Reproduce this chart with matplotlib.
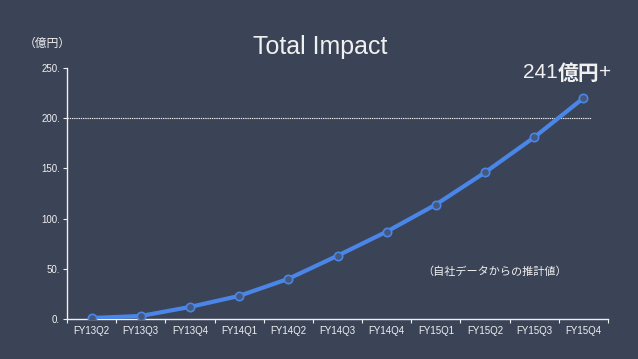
import matplotlib.pyplot as plt

plt.rcParams['font.family'] = ['Liberation Sans', 'Noto Sans CJK JP', 'DejaVu Sans']

# data
quarters = ['FY13Q2', 'FY13Q3', 'FY13Q4', 'FY14Q1', 'FY14Q2', 'FY14Q3',
            'FY14Q4', 'FY15Q1', 'FY15Q2', 'FY15Q3', 'FY15Q4']
impact = [1, 3, 12, 23, 40, 63, 87, 114, 146, 181, 220]
y_ticks = [0, 50, 100, 150, 200, 250]
y_tick_labels = ['0.', '50.', '100.', '150.', '200.', '250.']
ref_level = 200

bg = '#3b4357'
fg = '#f0f0f0'
blue = '#4a86e8'

fig = plt.figure(figsize=(6.38, 3.59), dpi=100, facecolor=bg)
ax = fig.add_axes([67 / 638, 1 - 319 / 359, 541 / 638, 251 / 359])
ax.set_facecolor(bg)

x = list(range(len(quarters)))
ax.plot(x, impact, color=blue, lw=3, marker='o', ms=6,
        markerfacecolor='#45587e', markeredgecolor=blue, markeredgewidth=1.2,
        zorder=3)
ax.plot([-0.5, 10.15], [ref_level, ref_level], color=fg, lw=0.8,
        ls=(0, (1.2, 0.8)), zorder=2)

ax.set_xlim(-0.5, 10.5)
ax.set_ylim(0, 250)
ax.set_yticks(y_ticks)
ax.set_yticklabels(y_tick_labels)
ax.set_xticks([i + 0.5 for i in x[:-1]] + [-0.5, 10.5])
ax.set_xticklabels([])
ax.set_xticks(x, minor=True)
ax.set_xticklabels(quarters, minor=True)
ax.tick_params(axis='x', which='major', length=3, color=fg, direction='out')
ax.tick_params(axis='x', which='minor', length=0, labelsize=7,
               colors=fg, pad=5)
ax.tick_params(axis='y', length=3, color=fg, labelsize=7,
               labelcolor=fg, pad=2)

for side in ['top', 'right']:
    ax.spines[side].set_visible(False)
for side in ['left', 'bottom']:
    ax.spines[side].set_color(fg)
    ax.spines[side].set_linewidth(1)

fig.text(320 / 638, 1 - 47 / 359, 'Total Impact', color=fg, fontsize=18,
         ha='center', va='center')
fig.text(47 / 638, 1 - 43 / 359, '（億円）', color=fg, fontsize=8.5,
         ha='center', va='center', family=['Noto Sans CJK JP'])
fig.text(523 / 638, 1 - 73 / 359, '241', color=fg, fontsize=15,
         ha='left', va='center')
fig.text(558 / 638, 1 - 73 / 359, '億円', color=fg, fontsize=15,
         ha='left', va='center', weight='bold', family=['Noto Sans CJK JP'])
fig.text(599 / 638, 1 - 73 / 359, '+', color=fg, fontsize=15,
         ha='left', va='center')
fig.text(495 / 638, 1 - 272 / 359, '（自社データからの推計値）', color=fg,
         fontsize=8, ha='center', va='center', family=['Noto Sans CJK JP'])

fig.savefig('out.png', dpi=100, facecolor=bg)
